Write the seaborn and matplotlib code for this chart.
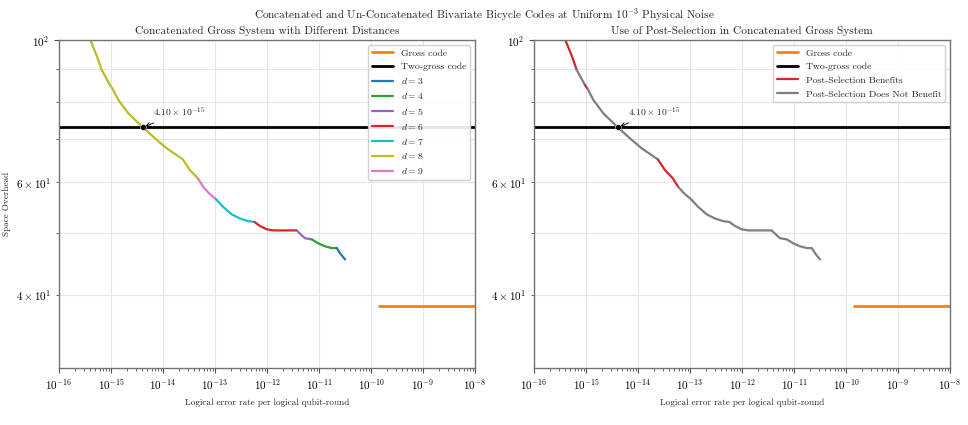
import matplotlib.pyplot as plt
import seaborn as sns
import numpy as np
import pandas as pd

# Pareto curve of the concatenated gross system
error_rate = [3.80e-16, 5.25e-16, 6.61e-16, 9.55e-16, 1.06e-15, 1.38e-15,
              2.15e-15, 4.10e-15, 7.57e-15, 1.18e-14, 2.39e-14, 3.30e-14,
              4.65e-14, 5.96e-14, 7.67e-14, 1.04e-13, 1.45e-13, 2.09e-13,
              3.03e-13, 4.37e-13, 5.70e-13, 7.33e-13, 9.86e-13, 1.32e-12,
              3.72e-12, 4.65e-12, 5.38e-12, 7.24e-12, 9.70e-12, 1.30e-11,
              1.75e-11, 2.19e-11, 2.54e-11, 3.16e-11]
overhead = [101.0, 94.7, 89.8, 85.0, 84.0, 80.6,
            76.8, 73.0, 69.8, 67.7, 65.1, 62.6,
            60.8, 58.9, 57.6, 56.4, 54.8, 53.4,
            52.6, 52.1, 51.96, 51.2, 50.6, 50.4,
            50.4, 49.5, 49.0, 48.8, 48.1, 47.6,
            47.3, 47.3, 46.4, 45.4]
# distance used from each point to the next one
distance = [8, 8, 8, 8, 8, 8,
            8, 8, 8, 8, 8, 8,
            9, 9, 9, 7, 7, 7,
            7, 7, 6, 6, 6, 6,
            5, 5, 5, 4, 4, 4,
            4, 3, 3, 3]
# 1 = post-selection benefits on the piece starting at that point
post_selection = [1, 1, 0, 1, 0, 0,
                  0, 0, 0, 0, 1, 1,
                  1, 0, 0, 0, 0, 0,
                  0, 0, 0, 0, 0, 0,
                  0, 0, 0, 0, 0, 0,
                  0, 0, 0, 0]

gross_error = [1.45e-10, 1.0e-8]
gross_overhead = 38.4
two_gross_overhead = 73.0
crossing_error = 4.10e-15

distances = [3, 4, 5, 6, 7, 8, 9]
dist_colors = {3: 'C0', 4: 'C2', 5: 'C4', 6: 'C3', 7: 'C9', 8: 'C8', 9: 'C6'}

sns.set_style('whitegrid')
plt.rcParams.update({
    'font.family': 'serif',
    'font.serif': ['cmr10'],
    'mathtext.fontset': 'cm',
    'axes.formatter.use_mathtext': True,
    'axes.edgecolor': '0.45',
    'axes.linewidth': 1.0,
    'grid.color': '0.9',
    'grid.linewidth': 0.8,
    'xtick.bottom': True,
    'ytick.left': True,
    'xtick.color': '0.3',
    'ytick.color': '0.3',
    'xtick.labelcolor': 'black',
    'ytick.labelcolor': 'black',
    'xtick.labelsize': 8,
    'ytick.labelsize': 8,
})

df = pd.DataFrame({'err': error_rate, 'ovh': overhead,
                   'd': distance, 'ps': post_selection})


def runs(keys):
    # group pieces (i -> i+1) with the same key
    out = []
    start = 0
    for i in range(1, len(keys) - 1):
        if keys[i] != keys[start]:
            out.append((start, i, keys[start]))
            start = i
    out.append((start, len(keys) - 1, keys[start]))
    return out


fig = plt.figure(figsize=(9.68, 4.25), dpi=100)
ax1 = fig.add_axes([0.0610, 0.1341, 0.4298, 0.7718])
ax2 = fig.add_axes([0.5517, 0.1341, 0.4298, 0.7718])

for ax in (ax1, ax2):
    ax.set_xscale('log')
    ax.set_yscale('log')
    sns.lineplot(x=gross_error, y=[gross_overhead] * 2, color='C1', lw=2,
                 label='Gross code', ax=ax)
    ax.axhline(two_gross_overhead, color='black', lw=2, label='Two-gross code')

# left: coloured by distance
seen = set()
for a, b, d in runs(distance):
    part = df.iloc[a:b + 1]
    lab = f'$d={d}$' if d not in seen else None
    seen.add(d)
    sns.lineplot(data=part, x='err', y='ovh', color=dist_colors[d], lw=1.6,
                 sort=False, estimator=None, label=lab, ax=ax1)

# right: coloured by post-selection
ps_names = {1: 'Post-Selection Benefits', 0: 'Post-Selection Does Not Benefit'}
ps_colors = {1: 'C3', 0: 'C7'}
seen = set()
for a, b, p in runs(post_selection):
    part = df.iloc[a:b + 1]
    lab = ps_names[p] if p not in seen else None
    seen.add(p)
    sns.lineplot(data=part, x='err', y='ovh', color=ps_colors[p], lw=1.6,
                 sort=False, estimator=None, label=lab, ax=ax2)

order1 = ['Gross code', 'Two-gross code'] + [f'$d={d}$' for d in distances]
order2 = ['Gross code', 'Two-gross code', ps_names[1], ps_names[0]]
titles = ['Concatenated Gross System with Different Distances',
          'Use of Post-Selection in Concatenated Gross System']

for ax, order, title in ((ax1, order1, titles[0]), (ax2, order2, titles[1])):
    sns.scatterplot(x=[crossing_error], y=[two_gross_overhead], color='black',
                    s=18, zorder=5, ax=ax)
    ax.annotate(r'$4.10\times10^{-15}$', xy=(crossing_error, two_gross_overhead),
                xytext=(7, 8), textcoords='offset points', fontsize=7,
                arrowprops=dict(arrowstyle='->', color='black', lw=0.6))
    ax.set_xlim(1e-16, 1e-8)
    ax.set_ylim(gross_overhead * 0.8, 100)
    ax.grid(False)
    ax.grid(True, which='major', axis='x')
    ax.grid(True, which='both', axis='y')
    ax.set_title(title, fontsize=8.2, pad=4)
    ax.set_xlabel('Logical error rate per logical qubit-round', fontsize=6.6)
    ax.set_ylabel('')
    h, l = ax.get_legend_handles_labels()
    hd = dict(zip(l, h))
    ax.legend([hd[k] for k in order], order, loc='upper right', fontsize=7,
              framealpha=0.9, handlelength=2.2)

ax1.set_ylabel('Space Overhead', fontsize=6.6)
fig.suptitle(r'Concatenated and Un-Concatenated Bivariate Bicycle Codes at Uniform $10^{-3}$ Physical Noise',
             fontsize=8.1, y=0.985)

fig.savefig('out.png', dpi=100)
